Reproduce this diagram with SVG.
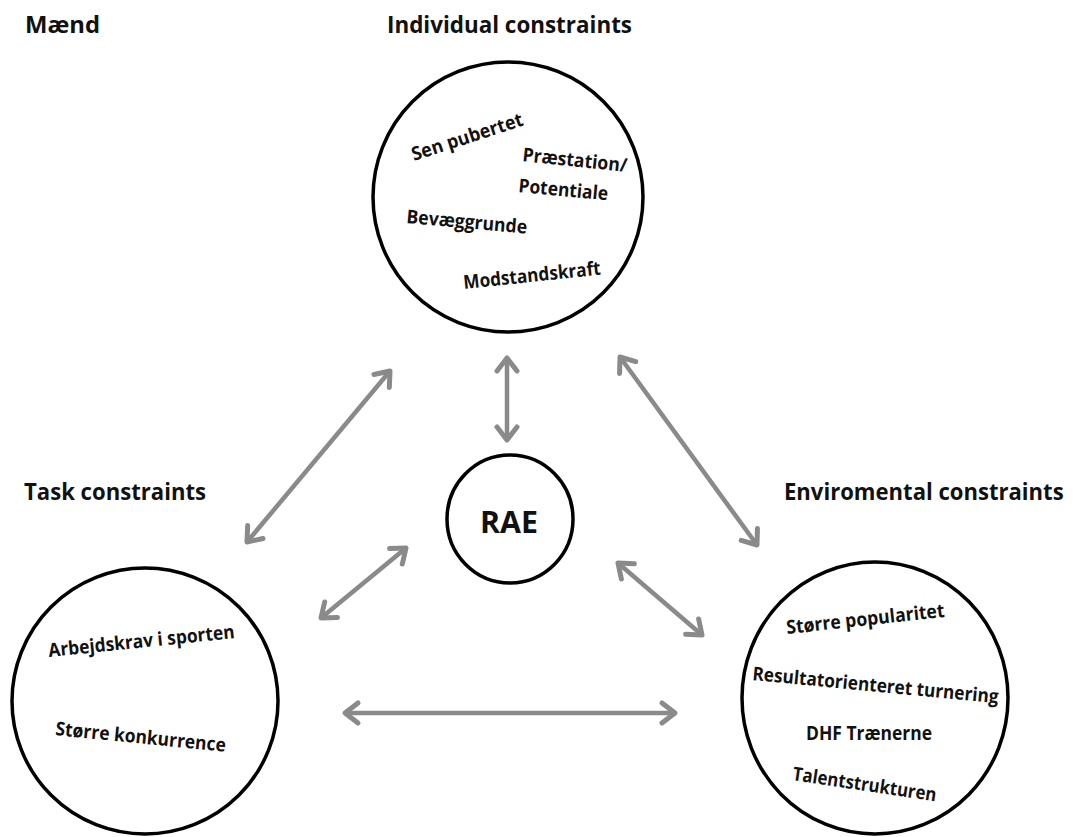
<svg xmlns="http://www.w3.org/2000/svg" width="1077" height="837" viewBox="0 0 1077 837">
<style>
text{font-family:"Open Sans",Lato,"Liberation Sans",sans-serif;font-weight:700;fill:#111}
.title{font-size:24px}
.item{font-size:19px}
.rae{font-size:31px}
.circle{fill:#fff;stroke:#000;stroke-width:3.5}
.conn{stroke:#8a8a8a;stroke-width:4.5;fill:none;marker-start:url(#head);marker-end:url(#head)}
</style>
<defs>
<marker id="head" markerUnits="userSpaceOnUse" viewBox="-20 -14 24 28" refX="0" refY="0" markerWidth="24" markerHeight="28" orient="auto-start-reverse" overflow="visible">
<path d="M -13 -10 L 0 0 L -13 10" fill="none" stroke="#8a8a8a" stroke-width="5" stroke-linecap="round" stroke-linejoin="round"/>
</marker>
</defs>
<rect width="1077" height="837" fill="#fff"/>
<g id="titles">
<text class="title" x="25" y="33" textLength="75" lengthAdjust="spacingAndGlyphs">Mænd</text>
</g>
<g id="connectors">
<line class="conn" x1="247" y1="542" x2="390" y2="371"/>
<line class="conn" x1="507" y1="358" x2="507" y2="440"/>
<line class="conn" x1="620" y1="357" x2="757" y2="545"/>
<line class="conn" x1="321" y1="618" x2="406" y2="548"/>
<line class="conn" x1="618" y1="563" x2="702" y2="635"/>
<line class="conn" x1="345" y1="713" x2="675" y2="713"/>
</g>
<g id="individual">
<text class="title" x="387" y="33" textLength="245" lengthAdjust="spacingAndGlyphs">Individual constraints</text>
<ellipse class="circle" cx="508" cy="197" rx="135" ry="135"/>
<text class="item" x="414" y="161" transform="rotate(-18 414 161)" textLength="116" lengthAdjust="spacingAndGlyphs">Sen pubertet</text>
<text class="item" x="522" y="161" transform="rotate(6 522 161)" textLength="105" lengthAdjust="spacingAndGlyphs">Præstation/</text>
<text class="item" x="518" y="192" transform="rotate(5.3 518 192)" textLength="90" lengthAdjust="spacingAndGlyphs">Potentiale</text>
<text class="item" x="406" y="223" transform="rotate(5 406 223)" textLength="121" lengthAdjust="spacingAndGlyphs">Bevæggrunde</text>
<text class="item" x="464" y="289" transform="rotate(-6 464 289)" textLength="138" lengthAdjust="spacingAndGlyphs">Modstandskraft</text>
</g>
<g id="rae">
<ellipse class="circle" cx="510" cy="519" rx="63" ry="64"/>
<text class="rae" x="509" y="533" text-anchor="middle" textLength="58" lengthAdjust="spacingAndGlyphs">RAE</text>
</g>
<g id="task">
<text class="title" x="24" y="500" textLength="182" lengthAdjust="spacingAndGlyphs">Task constraints</text>
<ellipse class="circle" cx="145" cy="701" rx="133" ry="133"/>
<text class="item" x="49" y="657" transform="rotate(-5.8 49 657)" textLength="187" lengthAdjust="spacingAndGlyphs">Arbejdskrav i sporten</text>
<text class="item" x="55" y="735" transform="rotate(5.6 55 735)" textLength="171" lengthAdjust="spacingAndGlyphs">Større konkurrence</text>
</g>
<g id="environmental">
<text class="title" x="0" y="0" transform="translate(784 500) scale(0.85 1)" textLength="329" lengthAdjust="spacingAndGlyphs">Enviromental constraints</text>
<ellipse class="circle" cx="875" cy="698" rx="133" ry="136"/>
<text class="item" x="787" y="634" transform="rotate(-6.2 787 634)" textLength="159" lengthAdjust="spacingAndGlyphs">Større popularitet</text>
<text class="item" x="752" y="680" transform="rotate(5.4 752 680)" textLength="247" lengthAdjust="spacingAndGlyphs">Resultatorienteret turnering</text>
<text class="item" x="806" y="740" textLength="126" lengthAdjust="spacingAndGlyphs">DHF Trænerne</text>
<text class="item" x="792" y="780" transform="rotate(8.5 792 780)" textLength="145" lengthAdjust="spacingAndGlyphs">Talentstrukturen</text>
</g>
</svg>
